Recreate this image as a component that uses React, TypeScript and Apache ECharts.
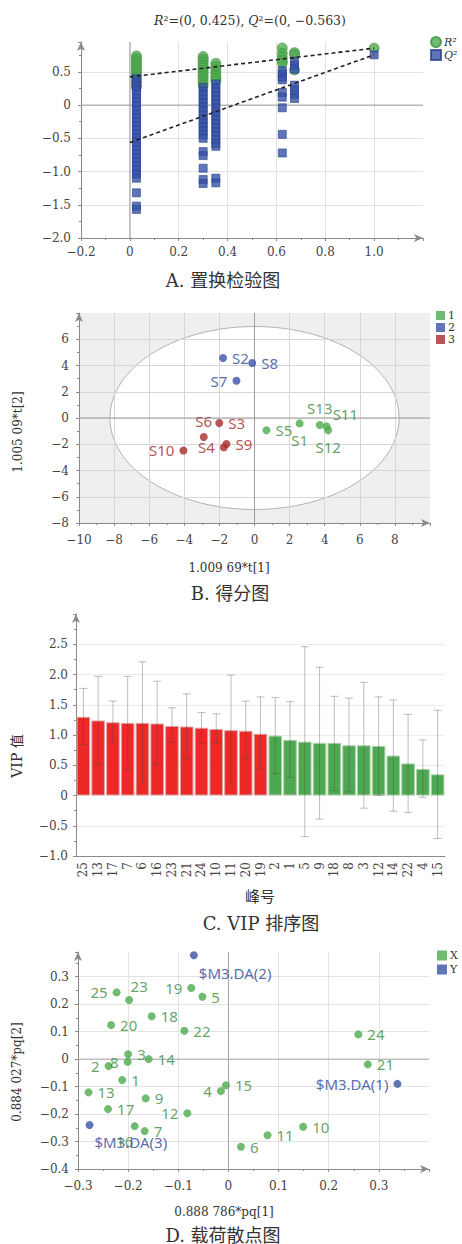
import React, { useEffect, useRef } from 'react';
import * as echarts from 'echarts';

// ---------- Panel A: permutation test ----------
const permCorr = [0.027, 0.3, 0.352, 0.624, 0.674, 1.0];
const r2Values = [
  [0.74, 0.7, 0.66, 0.62, 0.58, 0.54, 0.5, 0.46, 0.42, 0.38, 0.34, 0.3, 0.27],
  [0.73, 0.69, 0.65, 0.6, 0.56, 0.52, 0.48, 0.44, 0.4, 0.35, 0.3],
  [0.63, 0.58, 0.53, 0.48, 0.44, 0.4, 0.36],
  [0.86, 0.78, 0.72, 0.67, 0.63],
  [0.79, 0.76, 0.53],
  [0.857],
];
const q2Values = [
  [0.4, 0.34, 0.28, 0.22, 0.16, 0.1, 0.04, -0.02, -0.08, -0.14, -0.2, -0.26, -0.32, -0.38, -0.44, -0.5, -0.56, -0.62, -0.68, -0.74, -0.8, -0.86, -0.92, -0.98, -1.04, -1.1, -1.32, -1.52, -1.57],
  [0.27, 0.21, 0.15, 0.09, 0.03, -0.03, -0.09, -0.15, -0.21, -0.27, -0.33, -0.39, -0.45, -0.5, -0.7, -0.76, -0.95, -1.12, -1.18],
  [0.32, 0.26, 0.2, 0.14, 0.08, 0.02, -0.04, -0.1, -0.16, -0.22, -0.28, -0.34, -0.4, -0.46, -0.52, -0.58, -0.62, -1.1, -1.17],
  [0.52, 0.47, 0.42, 0.38, 0.19, 0.12, -0.04, -0.44, -0.72],
  [0.66, 0.6, 0.54, 0.3, 0.23, 0.16, 0.1],
  [0.757],
];
const r2Intercept = 0.425;
const q2Intercept = -0.563;
const r2Original = 0.857;
const q2Original = 0.757;

// ---------- Panel B: score plot ----------
const group1Names = ['S1', 'S5', 'S11', 'S12', 'S13'];
const group1X = [2.57, 0.68, 4.11, 4.2, 3.72];
const group1Y = [-0.41, -0.94, -0.64, -0.94, -0.53];
const group2Names = ['S2', 'S7', 'S8'];
const group2X = [-1.79, -1.03, -0.13];
const group2Y = [4.57, 2.84, 4.19];
const group3Names = ['S3', 'S4', 'S6', 'S9', 'S10'];
const group3X = [-2.01, -1.75, -2.89, -1.6, -4.05];
const group3Y = [-0.38, -2.24, -1.45, -1.98, -2.47];
const ellipseSemiX = 8.24;
const ellipseSemiY = 6.97;

// ---------- Panel C: VIP ----------
const vipPeaks = ['25', '13', '17', '7', '6', '16', '23', '21', '24', '10', '11', '20', '19', '2', '1', '5', '9', '18', '8', '3', '12', '14', '22', '4', '15'];
const vipValues = [1.3, 1.24, 1.21, 1.2, 1.2, 1.19, 1.15, 1.14, 1.12, 1.1, 1.08, 1.07, 1.02, 0.99, 0.92, 0.89, 0.87, 0.87, 0.83, 0.83, 0.82, 0.66, 0.53, 0.44, 0.35];
const vipHigh = [1.77, 1.97, 1.56, 1.97, 2.21, 1.89, 1.45, 1.68, 1.37, 1.35, 1.99, 1.56, 1.63, 1.62, 1.55, 2.46, 2.12, 1.64, 1.61, 1.87, 1.63, 1.58, 1.34, 0.92, 1.41];
const vipLow = [0.84, 0.51, 0.87, 0.44, 0.19, 0.51, 0.88, 0.61, 0.86, 0.86, 0.19, 0.61, 0.43, 0.36, 0.3, -0.68, -0.39, 0.08, 0.06, -0.21, 0.0, -0.26, -0.28, -0.03, -0.71];
const vipThreshold = 1;

// ---------- Panel D: loading scatter ----------
const loadingNames = ['1', '2', '3', '4', '5', '6', '7', '8', '9', '10', '11', '12', '13', '14', '15', '16', '17', '18', '19', '20', '21', '22', '23', '24', '25'];
const loadingX = [-0.212, -0.239, -0.2, -0.015, -0.052, 0.025, -0.167, -0.201, -0.165, 0.149, 0.078, -0.082, -0.279, -0.159, -0.005, -0.187, -0.24, -0.153, -0.074, -0.234, 0.278, -0.088, -0.198, 0.259, -0.223];
const loadingY = [-0.076, -0.025, 0.018, -0.116, 0.227, -0.319, -0.262, -0.01, -0.143, -0.246, -0.277, -0.197, -0.121, 0.0, -0.095, -0.244, -0.182, 0.156, 0.259, 0.124, -0.019, 0.103, 0.215, 0.09, 0.243];
const responseNames = ['$M3.DA(1)', '$M3.DA(2)', '$M3.DA(3)'];
const responseX = [0.337, -0.069, -0.277];
const responseY = [-0.09, 0.378, -0.24];

// ---------- styles (label placement, colours) ----------
const scoreLabelPlacement: Record<string, any> = {
  S1: { position: 'bottom' }, S5: { position: 'right' }, S11: { position: 'right', offset: [-3, -12] },
  S12: { position: 'bottom' }, S13: { position: 'top' },
  S2: { position: 'right' }, S7: { position: 'left' }, S8: { position: 'right' },
  S3: { position: 'right' }, S4: { position: 'left' }, S6: { position: 'top' }, S9: { position: 'right' }, S10: { position: 'left' },
};
const loadingLabelPlacement: Record<string, any> = {
  '25': { position: 'left' }, '19': { position: 'left' }, '8': { position: 'left' }, '2': { position: 'left' },
  '4': { position: 'left' }, '12': { position: 'left' }, '$M3.DA(1)': { position: 'left' },
  '23': { position: 'top', offset: [10, 2] }, '16': { position: 'bottom', offset: [-10, -2] },
  '$M3.DA(2)': { position: 'right', offset: [-4, 18] }, '$M3.DA(3)': { position: 'right', offset: [-4, 17] },
};

const SERIF = "'DejaVu Serif', 'Noto Sans CJK SC', serif";
const SANS = "'Noto Sans', 'Open Sans', sans-serif";
const AXIS_COLOR = '#8a8a8a';
const LABEL_COLOR = '#444';
const GRID_LINE = '#e2e2e2';
const GREEN = '#4fab4f';
const GREEN_DARK = '#3b8b3b';
const BLUE = '#3753a6';
const BLUE_DARK = '#2d4898';
const RED = '#a82a2a';
const RED_DARK = '#a02828';
const BAR_RED = '#ee2727';
const BAR_GREEN = '#4ea852';

function fmt1(v: number) {
  if (Math.abs(v) < 1e-9) return '0';
  return (v < 0 ? '−' : '') + Math.abs(v).toFixed(1);
}
function fmt0(v: number) {
  if (Math.abs(v) < 1e-9) return '0';
  return (v < 0 ? '−' : '') + Math.abs(Math.round(v));
}

function valueAxis(gridIndex: number, min: number, max: number, interval: number, formatter: any, margin: number, lineColor = GRID_LINE) {
  return {
    type: 'value', gridIndex, min, max, interval,
    axisLine: { show: true, onZero: false, symbol: ['none', 'arrow'], symbolSize: [6, 9], lineStyle: { color: AXIS_COLOR, width: 1 } },
    axisTick: { show: true, length: 3, lineStyle: { color: AXIS_COLOR } },
    minorTick: { show: true, splitNumber: 2, length: 2, lineStyle: { color: AXIS_COLOR } },
    minorSplitLine: { show: false },
    axisLabel: { formatter, color: LABEL_COLOR, fontSize: 12, fontFamily: SERIF, showMaxLabel: false, margin },
    splitLine: { show: true, showMinLine: false, showMaxLine: false, lineStyle: { color: lineColor, width: 1 } },
  };
}

function zeroLines(g: number, color = '#9e9e9e') {
  return {
    type: 'custom', name: '_zero' + g, xAxisIndex: g, yAxisIndex: g, z: 1, silent: true, data: [[0, 0]],
    renderItem: (params: any, api: any) => {
      const cs = params.coordSys;
      const o = api.coord([0, 0]);
      return {
        type: 'group',
        children: [
          { type: 'line', shape: { x1: o[0], y1: cs.y, x2: o[0], y2: cs.y + cs.height }, style: { stroke: color, lineWidth: 1 } },
          { type: 'line', shape: { x1: cs.x, y1: o[1], x2: cs.x + cs.width, y2: o[1] }, style: { stroke: color, lineWidth: 1 } },
        ],
      };
    },
  };
}

function buildOption(): any {
  const r2Data: number[][] = [];
  const q2Data: number[][] = [];
  permCorr.forEach((x, i) => {
    r2Values[i].forEach((v) => r2Data.push([x, v]));
    q2Values[i].forEach((v) => q2Data.push([x, v]));
  });

  const scoreSeries = (name: string, names: string[], xs: number[], ys: number[], color: string, labelColor: string) => ({
    type: 'scatter', name, xAxisIndex: 1, yAxisIndex: 1, symbol: 'circle', symbolSize: 8, z: 3,
    itemStyle: { color },
    label: { show: true, formatter: '{b}', color: labelColor, fontSize: 15, fontFamily: SANS, distance: 5 },
    data: names.map((n, i) => ({ name: n, value: [xs[i], ys[i]], label: scoreLabelPlacement[n] || {} })),
  });

  const loadSeries = (name: string, names: string[], xs: number[], ys: number[], color: string, labelColor: string) => ({
    type: 'scatter', name, xAxisIndex: 3, yAxisIndex: 3, symbol: 'circle', symbolSize: 8, z: 3,
    itemStyle: { color },
    label: { show: true, position: 'right', formatter: '{b}', color: labelColor, fontSize: 15, fontFamily: SANS, distance: 5 },
    data: names.map((n, i) => ({ name: n, value: [xs[i], ys[i]], label: loadingLabelPlacement[n] || {} })),
  });

  const texts: any[] = [
    { x: 250, y: 20, text: '{i|R}²=(0, 0.425), {i|Q}²=(0, −0.563)', size: 12.5, rot: 0 },
    { x: 223, y: 280, text: 'A. 置换检验图', size: 18, rot: 0 },
    { x: 18, y: 432, text: '1.005 09*t[2]', size: 12, rot: Math.PI / 2 },
    { x: 229, y: 568, text: '1.009 69*t[1]', size: 12, rot: 0 },
    { x: 230, y: 593, text: 'B. 得分图', size: 18, rot: 0 },
    { x: 17, y: 756, text: 'VIP 值', size: 14, rot: Math.PI / 2 },
    { x: 260, y: 897, text: '峰号', size: 15, rot: 0 },
    { x: 261, y: 923, text: 'C. VIP 排序图', size: 18, rot: 0 },
    { x: 17, y: 1072, text: '0.884 027*pq[2]', size: 12, rot: Math.PI / 2 },
    { x: 224, y: 1212, text: '0.888 786*pq[1]', size: 12, rot: 0 },
    { x: 223, y: 1235, text: 'D. 载荷散点图', size: 18, rot: 0 },
  ];

  return {
    animation: false,
    backgroundColor: '#ffffff',
    textStyle: { fontFamily: SERIF },
    grid: [
      { left: 81, top: 42, width: 342, height: 196, outerBoundsMode: 'none' },
      { left: 79, top: 313, width: 351, height: 210, outerBoundsMode: 'none' },
      { left: 76, top: 614, width: 369, height: 242, outerBoundsMode: 'none' },
      { left: 78, top: 952, width: 351, height: 217, outerBoundsMode: 'none' },
    ],
    xAxis: [
      valueAxis(0, -0.2, 1.2, 0.2, fmt1, 8),
      valueAxis(1, -10, 10, 2, fmt0, 11, '#d6d6d6'),
      {
        type: 'category', gridIndex: 2, data: vipPeaks,
        axisLine: { show: true, onZero: false, lineStyle: { color: AXIS_COLOR } },
        axisTick: { show: false },
        axisLabel: { interval: 0, rotate: 90, color: LABEL_COLOR, fontSize: 12, fontFamily: SERIF, margin: 6 },
        splitLine: { show: false },
      },
      valueAxis(3, -0.3, 0.4, 0.1, fmt1, 11),
    ],
    yAxis: [
      valueAxis(0, -2, 0.95, 0.5, fmt1, 10),
      valueAxis(1, -8, 8, 2, fmt0, 10, '#d6d6d6'),
      valueAxis(2, -1, 3, 0.5, fmt1, 8, '#ececec'),
      valueAxis(3, -0.4, 0.39, 0.1, fmt1, 9),
    ],
    legend: [
      {
        left: 430, top: 36, padding: 0, orient: 'vertical', itemWidth: 10, itemHeight: 10, itemGap: 1, selectedMode: false,
        textStyle: { fontSize: 11, fontStyle: 'italic', fontFamily: SERIF, color: '#333', padding: [0, 0, 0, -2] },
        data: [{ name: 'R²', icon: 'circle' }, { name: 'Q²', icon: 'rect' }],
      },
      {
        left: 436, top: 310, padding: 0, orient: 'vertical', itemWidth: 9, itemHeight: 9, itemGap: 1, selectedMode: false, icon: 'rect',
        textStyle: { fontSize: 11, fontFamily: SERIF, color: '#333', padding: [0, 0, 0, -2] },
        data: ['1', '2', '3'],
      },
      {
        left: 437, top: 950, padding: 0, orient: 'vertical', itemWidth: 10, itemHeight: 10, itemGap: 3, selectedMode: false, icon: 'rect',
        textStyle: { fontSize: 11, fontFamily: SERIF, color: '#333', padding: [0, 0, 0, -2] },
        data: ['X', 'Y'],
      },
    ],
    graphic: {
      elements: texts.map((t) => ({
        type: 'text', x: t.x, y: t.y, rotation: t.rot, silent: true,
        style: {
          text: t.text, fill: '#333', fontSize: t.size, fontFamily: SERIF, align: 'center', verticalAlign: 'middle',
          rich: { i: { fontStyle: 'italic', fontSize: t.size, fontFamily: SERIF, fill: '#333' } },
        },
      })),
    },
    series: [
      // ----- A -----
      zeroLines(0),
      {
        type: 'scatter', name: 'R²', xAxisIndex: 0, yAxisIndex: 0, symbol: 'circle', symbolSize: 10, z: 3,
        itemStyle: { color: GREEN, borderColor: '#3f933f', borderWidth: 0.8 },
        data: r2Data,
      },
      {
        type: 'scatter', name: 'Q²', xAxisIndex: 0, yAxisIndex: 0, symbol: 'rect', symbolSize: 8, z: 4,
        itemStyle: { color: BLUE, borderColor: '#2a4290', borderWidth: 0.8 },
        data: q2Data,
      },
      {
        type: 'line', name: '_r2fit', xAxisIndex: 0, yAxisIndex: 0, symbol: 'none', z: 5, silent: true,
        lineStyle: { color: '#222', width: 1.6, type: [4, 3] },
        data: [[0, r2Intercept], [1, r2Original]],
      },
      {
        type: 'line', name: '_q2fit', xAxisIndex: 0, yAxisIndex: 0, symbol: 'none', z: 5, silent: true,
        lineStyle: { color: '#222', width: 1.6, type: [4, 3] },
        data: [[0, q2Intercept], [1, q2Original]],
      },
      // ----- B -----
      {
        type: 'custom', name: '_ellipse', xAxisIndex: 1, yAxisIndex: 1, z: -1, silent: true, data: [[0, 0]],
        renderItem: (params: any, api: any) => {
          const cs = params.coordSys;
          const pts: number[][] = [];
          for (let k = 0; k <= 144; k++) {
            const t = (k / 144) * 2 * Math.PI;
            pts.push(api.coord([ellipseSemiX * Math.cos(t), ellipseSemiY * Math.sin(t)]));
          }
          return {
            type: 'group',
            children: [
              { type: 'rect', shape: { x: cs.x, y: cs.y, width: cs.width, height: cs.height }, style: { fill: '#eeefef' } },
              { type: 'polygon', shape: { points: pts }, style: { fill: '#ffffff', stroke: '#b2b2b2', lineWidth: 1 } },
            ],
          };
        },
      },
      zeroLines(1),
      scoreSeries('1', group1Names, group1X, group1Y, '#4eaa4e', GREEN_DARK),
      scoreSeries('2', group2Names, group2X, group2Y, BLUE, BLUE_DARK),
      scoreSeries('3', group3Names, group3X, group3Y, RED, RED_DARK),
      // ----- C -----
      {
        type: 'bar', name: '_vip', xAxisIndex: 2, yAxisIndex: 2, barCategoryGap: '8%', z: 2,
        data: vipValues.map((v) => ({
          value: v,
          itemStyle: v >= vipThreshold
            ? { color: BAR_RED, borderColor: '#dba3a3', borderWidth: 1 }
            : { color: BAR_GREEN, borderColor: '#a9d1a9', borderWidth: 1 },
        })),
      },
      {
        type: 'custom', name: '_vipErr', xAxisIndex: 2, yAxisIndex: 2, z: 3, silent: true,
        encode: { x: 0, y: [1, 2] },
        data: vipPeaks.map((_, i) => [i, vipLow[i], vipHigh[i]]),
        renderItem: (params: any, api: any) => {
          const i = api.value(0);
          const lo = api.coord([i, api.value(1)]);
          const hi = api.coord([i, api.value(2)]);
          const w = 4;
          const style = { stroke: 'rgba(70,70,70,0.35)', lineWidth: 1 };
          return {
            type: 'group',
            children: [
              { type: 'line', shape: { x1: lo[0], y1: lo[1], x2: hi[0], y2: hi[1] }, style },
              { type: 'line', shape: { x1: hi[0] - w, y1: hi[1], x2: hi[0] + w, y2: hi[1] }, style },
              { type: 'line', shape: { x1: lo[0] - w, y1: lo[1], x2: lo[0] + w, y2: lo[1] }, style },
            ],
          };
        },
      },
      // ----- D -----
      zeroLines(3, '#a8a8a8'),
      loadSeries('X', loadingNames, loadingX, loadingY, '#4eaa4e', GREEN_DARK),
      loadSeries('Y', responseNames, responseX, responseY, BLUE, BLUE_DARK),
    ],
  };
}

export default function App() {
  const ref = useRef<HTMLDivElement>(null);
  useEffect(() => {
    if (!ref.current) return;
    const chart = echarts.init(ref.current, undefined, { renderer: 'svg' });
    chart.setOption(buildOption());
    return () => chart.dispose();
  }, []);
  return (
    <div
      ref={ref}
      style={{ position: 'absolute', left: 0, top: 0, width: 462, height: 1244, background: '#fff' }}
    />
  );
}
